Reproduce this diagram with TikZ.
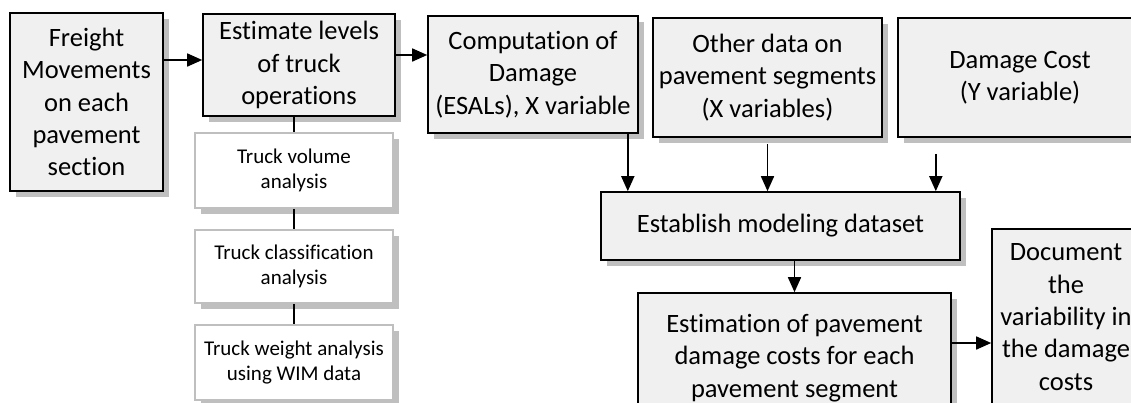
\documentclass[tikz,border=0pt]{standalone}
\usepackage{fontspec}
\setmainfont[Ligatures=NoCommon]{Carlito}
\usepackage{tikz}
\usetikzlibrary{arrows.meta,shadows,positioning}

\definecolor{boxfill}{HTML}{F0F0F0}
\definecolor{shadowgray}{HTML}{BFBFBF}

\tikzset{
  mainbox/.style={draw=black, line width=1.6pt, fill=boxfill, align=center,
    inner sep=0pt, font=\fontsize{26.5}{32.4}\selectfont,
    drop shadow={shadow xshift=6pt, shadow yshift=-6pt, fill=shadowgray, opacity=1}},
  subbox/.style={draw=shadowgray, line width=1.5pt, fill=white, align=center,
    inner sep=0pt, minimum width=198pt, font=\fontsize{21}{25.6}\selectfont,
    drop shadow={shadow xshift=6pt, shadow yshift=-6pt, fill=shadowgray, opacity=1}},
  arr/.style={line width=1.6pt, -{Triangle[length=15pt,width=13pt]}},
  link/.style={line width=1.6pt}
}

\begin{document}
\begin{tikzpicture}[x=1pt,y=-1pt]

\useasboundingbox (0,0) rectangle (1131,402);
\clip (0,0) rectangle (1131,402);

\node[mainbox, minimum width=153pt, minimum height=178pt] (freight) at (86.5,102)
  {Freight\\Movements\\on each\\pavement\\section};
\node[mainbox, minimum width=192pt, minimum height=102pt] (estimate) at (299,65)
  {Estimate levels\\of truck\\operations};
\node[mainbox, minimum width=210pt, minimum height=117pt] (comput) at (533,74.5)
  {Computation of\\Damage\\(ESALs), X variable};
\node[mainbox, minimum width=229pt, minimum height=119pt] (other) at (767.5,77.5)
  {Other data on\\pavement segments\\(X variables)};
\node[mainbox, minimum width=244pt, minimum height=119pt] (dcost) at (1020,77.5)
  {Damage Cost\\(Y variable)};
\node[mainbox, minimum width=359pt, minimum height=68pt] (establish) at (780.5,226)
  {Establish modeling dataset};
\node[mainbox, minimum width=313pt, minimum height=130pt] (estimation) at (794.5,358)
  {Estimation of pavement\\damage costs for each\\pavement segment};
\node[mainbox, minimum width=148pt, minimum height=176pt] (document) at (1066,317)
  {Document\\the\\variability in\\the damage\\costs};

\node[subbox, minimum height=75pt] (vol) at (294,170.5) {Truck volume\\analysis};
\node[subbox, minimum height=73pt] (cls) at (294,266.5) {Truck classification\\analysis};
\node[subbox, minimum height=75pt] (wgt) at (294,362.5) {Truck weight analysis\\using WIM data};

\draw[arr] ([yshift=5pt]freight.east |- estimate.west) -- ([yshift=5pt]estimate.west);
\draw[arr] ([yshift=10pt]estimate.east) -- ([yshift=10pt]estimate.east -| comput.west);

\draw[arr] ([xshift=-11pt]comput.south east) -- ([xshift=-11pt]comput.south east |- establish.north);
\draw[arr] ([yshift=-6pt]other.south) -- (other.south |- establish.north);
\draw[arr] ([xshift=-25pt,yshift=-16pt]establish.north east |- dcost.south) -- ([xshift=-25pt]establish.north east);

\draw[arr] (establish.south -| estimation.north) -- (estimation.north);
\draw[arr] ([yshift=15pt]estimation.east) -- ([yshift=15pt]estimation.east -| document.west);

\foreach \a/\b in {estimate/vol, vol/cls, cls/wgt}
    \draw[link] (\a.south -| \b.north) -- (\b.north);

\end{tikzpicture}
\end{document}
